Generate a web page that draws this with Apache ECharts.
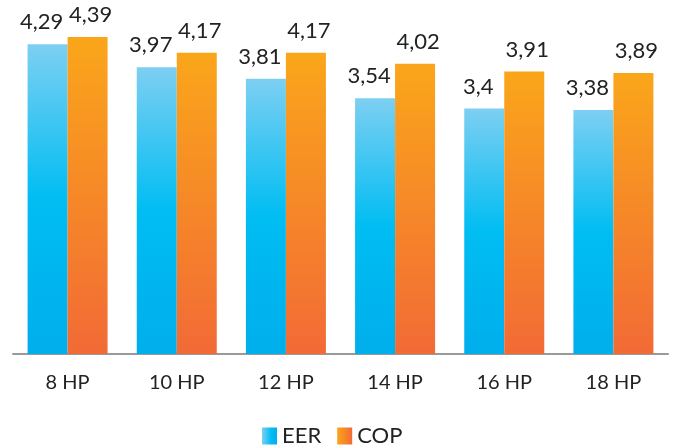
<!DOCTYPE html>
<html>
<head>
<meta charset="utf-8">
<script src="https://cdn.jsdelivr.net/npm/echarts@6/dist/echarts.min.js"></script>
<style>
  html, body { margin: 0; padding: 0; background: #fff; }
  #main { width: 676px; height: 447px; }
</style>
</head>
<body>
<div id="main"></div>
<script>
// data
const categories = ['8 HP', '10 HP', '12 HP', '14 HP', '16 HP', '18 HP'];
const eerValues = [4.29, 3.97, 3.81, 3.54, 3.4, 3.38];
const copValues = [4.39, 4.17, 4.17, 4.02, 3.91, 3.89];

const FONT = 'Lato';

function vGrad(stops) {
  return new echarts.graphic.LinearGradient(0, 0, 0, 1, stops);
}
function hGrad(stops) {
  return new echarts.graphic.LinearGradient(0, 0, 1, 0, stops);
}

const eerColor = vGrad([
  { offset: 0, color: '#7dcff2' },
  { offset: 0.5, color: '#00bdf2' },
  { offset: 1, color: '#00aeec' }
]);
const copColor = vGrad([
  { offset: 0, color: '#faa61a' },
  { offset: 1, color: '#f26a36' }
]);

function fmt(p) {
  return String(p.value).replace('.', ',');
}

const chart = echarts.init(document.getElementById('main'), null, { renderer: 'canvas' });

const option = {
  animation: false,
  grid: { left: 13, right: 8, top: 29, bottom: 93, containLabel: false },
  legend: {
    top: 420,
    left: 257,
    itemWidth: 15,
    itemHeight: 17,
    itemGap: 16,
    icon: 'rect',
    textStyle: { fontFamily: FONT, fontSize: 22, color: '#222' },
    data: [
      { name: 'EER', itemStyle: { color: hGrad([{ offset: 0, color: '#7dcff2' }, { offset: 0.6, color: '#00bdf2' }, { offset: 1, color: '#00aeec' }]) } },
      { name: 'COP', itemStyle: { color: hGrad([{ offset: 0, color: '#faa61a' }, { offset: 1, color: '#f26a36' }]) } }
    ]
  },
  xAxis: {
    type: 'category',
    data: categories,
    axisLine: { lineStyle: { color: '#9a9a9a', width: 2 } },
    axisTick: { show: false },
    axisLabel: { fontFamily: FONT, fontSize: 20, color: '#222', margin: 19 }
  },
  yAxis: {
    type: 'value',
    min: 0,
    max: 4.5,
    show: false,
    splitLine: { show: false }
  },
  series: [
    {
      name: 'EER',
      type: 'bar',
      data: eerValues,
      barWidth: 40,
      barGap: '0%',
      itemStyle: { color: eerColor },
      label: {
        show: true,
        position: 'top',
        distance: 11,
        formatter: fmt,
        fontFamily: FONT,
        fontSize: 22,
        color: '#222',
        offset: [-6, 0]
      }
    },
    {
      name: 'COP',
      type: 'bar',
      data: copValues,
      barWidth: 40,
      itemStyle: { color: copColor },
      label: {
        show: true,
        position: 'top',
        distance: 11,
        formatter: fmt,
        fontFamily: FONT,
        fontSize: 22,
        color: '#222',
        offset: [3, 0]
      }
    }
  ]
};

chart.setOption(option);
</script>
</body>
</html>
